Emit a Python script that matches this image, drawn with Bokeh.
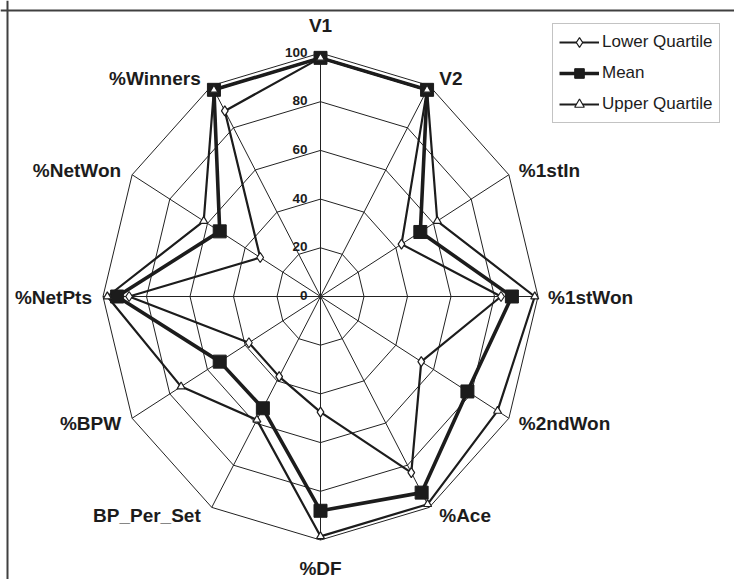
import numpy as np
from bokeh.plotting import figure
from bokeh.models import Range1d, Span, Legend, LegendItem
from bokeh.core.properties import value
from bokeh.embed import file_html
from bokeh.resources import INLINE

# ---- data ----
categories = ["V1", "V2", "%1stIn", "%1stWon", "%2ndWon", "%Ace", "%DF",
              "BP_Per_Set", "%BPW", "%NetPts", "%NetWon", "%Winners"]
lower_quartile = [98, 98, 43, 83, 53.5, 83.5, 47.5, 38, 38, 88, 32, 88]
mean_values = [98, 98, 53, 88, 78, 93, 88, 53, 53.5, 93.5, 53.5, 98]
upper_quartile = [98, 98, 62, 98.5, 94, 98.5, 98.5, 58.5, 74, 98, 62, 98]
ring_values = [20, 40, 60, 80, 100]
tick_values = [0, 20, 40, 60, 80, 100]
tick_labels = ["0", "20", "40", "60", "80", "100"]

# ---- geometry ----
W, H = 734, 579
HX, HY = 2.175, 2.435          # px per unit (reference is stretched vertically)
CX, CY = 320, 296               # centre in pixels (from top-left)
x_rng = Range1d(-CX / HX, (W - CX) / HX)
y_rng = Range1d(-(H - CY) / HY, CY / HY)

n = len(categories)
theta = np.arange(n) * 2 * np.pi / n
S, C = np.sin(theta), np.cos(theta)

def polar(vals):
    v = np.asarray(vals, dtype=float)
    x = v * S
    y = v * C
    return list(np.append(x, x[0])), list(np.append(y, y[0]))

p = figure(width=W, height=H, x_range=x_rng, y_range=y_rng,
           output_backend="svg", toolbar_location=None, min_border=0,
           background_fill_color="white", border_fill_color="white")
p.axis.visible = False
p.grid.visible = False
p.outline_line_color = None

FONT = value("Liberation Sans")
INK = "#1c1c1c"

# chart-area border (only top and left edges are inside the picture)
p.add_layout(Span(location=y_rng.end - 10 / HY, dimension="width",
                  line_color="#404040", line_width=2))
p.add_layout(Span(location=x_rng.start + 7 / HX, dimension="height",
                  line_color="#404040", line_width=2))

# ---- grid ----
for r in ring_values:
    gx, gy = polar([r] * n)
    p.line(gx, gy, line_color="#222222", line_width=1)
p.segment(x0=[0] * n, y0=[0] * n, x1=list(100 * S), y1=list(100 * C),
          line_color="#222222", line_width=1)

# value labels on V1 axis
for v, t in zip(tick_values, tick_labels):
    p.text(x=[0], y=[v], text=[t], text_align="right", text_baseline="middle",
           x_offset=-13, y_offset=-1, text_font=FONT, text_font_style="bold",
           text_font_size="13.5px", text_color=INK)

# category labels
for i, cat in enumerate(categories):
    s, c = S[i], C[i]
    x0, y0 = 100 * s, 100 * c
    if abs(s) < 1e-6:
        align = "center"
        xo = 0
        yo = -28 if c > 0 else 28
    elif s > 0:
        align = "left"
        xo = 10
        yo = -c * 9 + 0.5
    else:
        align = "right"
        xo = -11
        yo = -c * 9 + 0.5
    p.text(x=[x0], y=[y0], text=[cat], text_align=align, text_baseline="middle",
           x_offset=xo, y_offset=yo, text_font=FONT, text_font_style="bold",
           text_font_size="19px", text_color=INK)

# ---- series ----
lx, ly = polar(lower_quartile)
mx, my = polar(mean_values)
ux, uy = polar(upper_quartile)

l_line = p.line(lx, ly, line_color=INK, line_width=2.2)
l_mark = p.scatter(lx[:-1], ly[:-1], marker="diamond", size=10,
                   fill_color="white", line_color=INK, line_width=1.2)
m_line = p.line(mx, my, line_color=INK, line_width=3.6)
m_mark = p.scatter(mx[:-1], my[:-1], marker="square", size=13,
                   fill_color=INK, line_color=INK)
u_line = p.line(ux, uy, line_color=INK, line_width=2.2)
u_mark = p.scatter(ux[:-1], uy[:-1], marker="triangle", size=8,
                   fill_color="white", line_color=INK, line_width=1.2)

legend = Legend(items=[
    LegendItem(label="Lower Quartile", renderers=[l_line, l_mark]),
    LegendItem(label="Mean", renderers=[m_line, m_mark]),
    LegendItem(label="Upper Quartile", renderers=[u_line, u_mark]),
], location=(552, 456))
legend.label_text_font = "Liberation Sans"
legend.label_text_font_size = "17px"
legend.label_text_color = INK
legend.glyph_width = 40
legend.glyph_height = 24
legend.label_height = 24
legend.label_standoff = 3
legend.spacing = 7
legend.padding = 6
legend.margin = 0
legend.border_line_color = "#888888"
legend.border_line_width = 1
legend.background_fill_color = "white"
legend.background_fill_alpha = 1
p.add_layout(legend)

open("out.html", "w").write(file_html(p, INLINE))
